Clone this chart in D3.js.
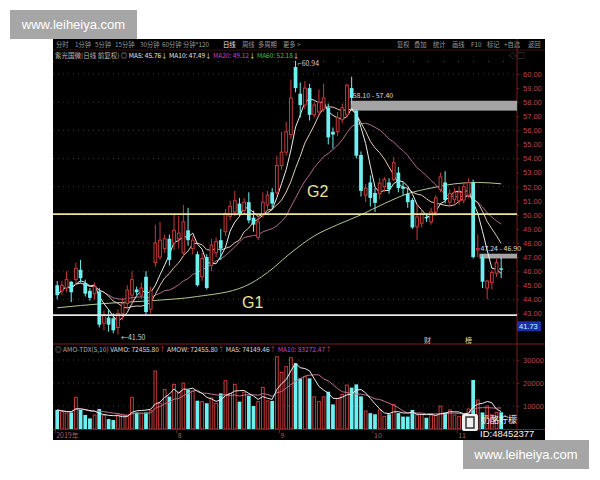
<!DOCTYPE html>
<html><head><meta charset="utf-8">
<script src="https://cdn.jsdelivr.net/npm/d3@7"></script>
<style>
body{margin:0;background:#fff;}
svg{display:block;font-family:"Noto Sans CJK SC","Noto Sans",sans-serif;}
</style>
</head><body>
<svg id="c" width="600" height="480"></svg>
<script>
// ---------- DATA ----------
const opens  = [45.0,44.6,44.8,45.25,45.4,46.1,45.15,44.6,44.4,44.55,42.3,42.7,42.65,42.0,43.0,43.7,44.3,44.7,44.3,45.6,
                43.3,46.6,47.0,47.6,48.3,48.0,48.3,47.3,48.9,47.6,47.2,45.6,47.0,46.4,47.3,48.2,48.8,49.9,50.2,50.8,
                50.3,50.9,49.8,48.4,50.0,50.7,51.6,51.6,53.5,54.45,55.7,60.5,58.6,57.8,59.0,57.1,57.3,57.5,57.6,55.9,
                55.9,56.75,57.1,59.0,57.4,54.25,51.4,52.3,51.55,51.5,52.0,52.3,52.5,53.0,52.0,51.5,51.05,49.15,49.4,49.85,
                49.5,50.2,51.8,52.3,50.9,51.1,51.0,51.05,51.4,52.3,47.5,47.0,44.8,45.2,45.85,46.2];
const highs  = [45.3,45.3,46.0,45.3,46.6,46.8,45.4,44.8,45.2,44.8,43.2,43.3,43.0,43.3,44.1,45.0,46.0,44.9,45.2,46.0,
                44.9,49.3,49.5,48.6,48.6,50.0,49.9,50.7,50.5,48.5,47.4,47.3,47.2,48.3,48.4,49.0,50.4,51.0,51.7,51.2,
                51.2,51.6,50.3,49.9,51.6,51.7,51.9,54.2,55.9,56.6,59.6,60.94,59.4,59.5,59.3,58.0,58.9,59.3,57.9,56.2,
                57.3,57.9,59.3,59.8,57.5,54.5,52.2,52.8,51.9,52.6,52.7,52.6,54.1,53.4,52.3,51.9,51.2,50.8,50.4,50.1,
                50.5,51.4,53.0,53.1,51.8,51.9,52.0,52.3,52.6,52.5,48.6,47.2,45.4,46.1,46.9,47.0];
const lows   = [44.0,44.3,44.5,43.8,45.0,45.2,44.2,43.9,44.0,42.0,41.8,41.7,41.6,41.5,42.5,43.3,43.6,44.3,44.0,42.9,
                43.0,46.3,46.8,47.3,46.4,47.5,47.6,47.0,47.8,47.2,44.9,45.3,44.7,46.0,47.0,46.8,48.5,49.6,49.9,49.9,
                50.0,49.4,48.8,48.2,49.8,50.4,50.5,51.4,53.2,54.2,55.4,58.7,56.9,57.5,56.7,56.9,57.0,57.3,55.0,54.7,
                55.6,56.5,56.9,57.9,54.0,51.3,50.9,50.6,50.2,51.1,51.6,51.5,52.4,51.6,51.4,50.5,49.0,48.2,49.1,49.5,
                49.3,49.9,51.6,50.8,50.6,50.8,50.7,50.8,51.2,46.9,47.0,44.8,44.0,44.7,45.6,45.5];
const closes = [44.3,45.0,45.4,44.5,46.2,45.5,44.4,44.1,44.9,42.2,42.9,42.2,41.8,43.0,43.7,44.65,45.4,44.5,44.8,43.1,
                44.6,48.0,48.2,48.3,46.8,48.9,48.7,49.5,48.2,48.2,45.0,46.9,44.8,47.85,48.1,47.6,50.1,50.6,51.0,50.1,
                50.9,49.6,49.3,49.5,50.9,51.4,50.8,53.5,54.45,55.9,58.3,59.0,57.8,59.0,57.1,57.8,58.0,58.3,55.5,55.7,
                56.9,57.6,59.2,58.3,54.2,51.7,51.9,51.2,50.85,52.25,52.5,51.8,53.7,51.9,51.85,50.9,49.1,49.85,50.1,49.75,
                50.2,51.2,52.7,51.05,51.5,51.6,51.6,52.0,52.3,47.0,47.6,45.25,45.3,45.9,46.6,46.1];
const volumes= [8300,7500,7000,7200,13800,8300,6100,4600,6100,8700,6000,4300,3900,6100,6400,6100,13800,7200,6800,7200,
                8000,25200,11200,17200,14100,19400,16000,19900,17000,16500,12300,11900,11200,13500,11200,15500,21000,15500,19400,11900,
                16000,14500,10000,11900,18100,12200,12200,31400,24600,27100,31000,28600,22000,22700,22000,14000,11900,14000,16200,10700,
                13300,15000,19100,18000,19400,14200,7800,6900,6400,8300,5500,6400,10600,6900,5400,5400,8300,6100,6400,4900,
                6100,6000,9900,7200,8300,6100,5400,6000,8700,21300,12600,7200,10000,6100,7200,7245];
// MA60 at selected candles
const ma60Idx = [0,10,20,30,40,45,50,55,60,65,70,75,80,85,90,95];
const ma60Val = [43.4,43.7,43.9,44.2,44.9,45.9,47.3,48.5,49.3,50.0,50.8,51.5,51.9,52.2,52.3,52.2];
const priceTicks = [60,59,58,57,56,55,54,53,52,51,50,49,48,47,46,45,44,43];
const gridPrices = [60,58,56,54,52,50,48,46,44];
const volTicks = [10000,20000,30000];
const monthLabels = ["2019年","8","9","10","11"];
const monthStart  = [0,26,48,68,86];
const toolbarLeft  = ["分时","1分钟","5分钟","15分钟","30分钟","60分钟","分钟*120","日线","周线","多周期","更多 >"];
const toolbarRight = ["复权","叠加","统计","画线","F10","标记","+自选","返回"];
const zone1 = [58.10,57.40], zone1From = 63;
const zone2 = [47.24,46.90], zone2From = 91;
const lineG2 = 50.05, lineG1 = 42.88;
const lowMark = {i:13, v:41.50}, highMark = {i:51, v:60.94};
const lastPrice = 41.73;

// ---------- SETUP ----------
const N = closes.length;
const svg = d3.select("#c");
const L = 53, R = 545, T = 39, B = 440, AX = 517;
const x = d3.scaleBand().domain(d3.range(N)).range([54.4, 504.0]).padding(0.2);
const cx = i => x(i) + x.bandwidth()/2;
const y = d3.scaleLinear().domain([43, 60]).range([313.4, 74]);
const yv = d3.scaleLinear().domain([0, 30000]).range([429, 360]);
const RED = "#c83a3a", CYAN = "#6ff0f0";

svg.append("rect").attr("width",600).attr("height",480).attr("fill","#fff");
svg.append("rect").attr("x",L).attr("y",T).attr("width",R-L).attr("height",B-T).attr("fill","#000");

// toolbar
const tbL = d3.scalePoint().domain(toolbarLeft).range([56, 283]);
const tbLx = [56,75,95,115,140,162,183,223,242,258,283];
toolbarLeft.forEach((t,k)=>{
  svg.append("text").attr("x",tbLx[k]).attr("y",47).attr("font-size",6.3)
    .attr("fill", t==="日线"?"#f0f0f0":"#9a9a9a").text(t);
});
const tbRx = [397,414,433,452,471,487,504,528];
toolbarRight.forEach((t,k)=>{
  svg.append("text").attr("x",tbRx[k]).attr("y",47).attr("font-size",6.3).attr("fill","#9a9a9a").text(t);
});
svg.append("line").attr("x1",L).attr("x2",R).attr("y1",50).attr("y2",50).attr("stroke","#3a1010");

// legend
const lg = svg.append("text").attr("x",55).attr("y",58).attr("font-size",6.5).attr("fill","#bbb");
lg.append("tspan").text("紫光国微(日线 前复权) ◎ ");
lg.append("tspan").attr("fill","#e8e8e8").text("MA5: 45.76↓ ");
lg.append("tspan").attr("fill","#e8e8e8").text("MA10: 47.49↓ ");
lg.append("tspan").attr("fill","#d040d0").text("MA20: 49.12");
lg.append("tspan").attr("fill","#e8e8e8").text("↓ ");
lg.append("tspan").attr("fill","#40c040").text("MA60: 52.18");
lg.append("tspan").attr("fill","#e8e8e8").text("↓");
svg.append("text").attr("x",509).attr("y",58).attr("font-size",7).attr("fill","#888").text("◇ ▢");

// gridlines
svg.append("g").selectAll("line").data(gridPrices).join("line")
  .attr("x1",L).attr("x2",AX).attr("y1",d=>y(d)).attr("y2",d=>y(d))
  .attr("stroke","#3a3a3a").attr("stroke-dasharray","1,4");
svg.append("line").attr("x1",L).attr("x2",AX).attr("y1",61.5).attr("y2",61.5).attr("stroke","#444").attr("stroke-dasharray","1,14");

// right axis
svg.append("line").attr("x1",AX).attr("x2",AX).attr("y1",T).attr("y2",B).attr("stroke","#7a1c1c");
const ax = svg.append("g").attr("transform",`translate(${AX},0)`)
  .call(d3.axisRight(y).tickValues(priceTicks).tickFormat(d3.format(".2f")).tickSize(2));
ax.select(".domain").remove();
ax.selectAll("line").attr("stroke","#7a1c1c");
ax.selectAll("text").attr("fill","#b84848").attr("font-size",7.5).attr("x",6).attr("font-family","Liberation Sans, sans-serif");

// zones
svg.append("rect").attr("x",cx(zone1From)-1).attr("width",AX-cx(zone1From)+1)
  .attr("y",y(zone1[0])).attr("height",y(zone1[1])-y(zone1[0])).attr("fill","#a4a4a4");
svg.append("text").attr("x",cx(zone1From)+1).attr("y",y(zone1[0])-3).attr("font-size",7).attr("fill","#ddd")
  .text(`${zone1[0].toFixed(2)} - ${zone1[1].toFixed(2)}`);
svg.append("rect").attr("x",cx(zone2From)-3).attr("width",AX-cx(zone2From)+3)
  .attr("y",y(zone2[0])).attr("height",y(zone2[1])-y(zone2[0])).attr("fill","#a4a4a4");
svg.append("text").attr("x",cx(zone2From)-2).attr("y",y(zone2[0])-3).attr("font-size",7).attr("fill","#ddd")
  .text(`${zone2[0].toFixed(2)} - ${zone2[1].toFixed(2)}`);

// clip
svg.append("clipPath").attr("id","pc").append("rect").attr("x",L).attr("y",62).attr("width",AX-L).attr("height",282);

// MAs
const ma = (arr,n) => arr.map((_,i)=> d3.mean(arr.slice(Math.max(0,i-n+1), i+1)));
const lineP = d3.line().x((d,i)=>cx(i)).y(d=>y(d));
const gMA = svg.append("g").attr("clip-path","url(#pc)").attr("fill","none").attr("stroke-width",1);
gMA.append("path").attr("d",d3.line().x((d,k)=>cx(ma60Idx[k])).y(d=>y(d)).curve(d3.curveMonotoneX)(ma60Val)).attr("stroke","#b0c890");
gMA.append("path").attr("d",lineP(ma(closes,20))).attr("stroke","#b06a90");
gMA.append("path").attr("d",lineP(ma(closes,10))).attr("stroke","#e0cbb0");
gMA.append("path").attr("d",lineP(ma(closes,5))).attr("stroke","#ececec");

// candles
const gC = svg.append("g");
const bw = x.bandwidth();
d3.range(N).forEach(i=>{
  const up = closes[i] >= opens[i];
  const c = up ? RED : CYAN;
  const top = y(Math.max(opens[i],closes[i])), bot = y(Math.min(opens[i],closes[i]));
  const h = Math.max(1, bot-top);
  if (up) {
    gC.append("line").attr("x1",cx(i)).attr("x2",cx(i)).attr("y1",y(highs[i])).attr("y2",top).attr("stroke",c);
    gC.append("line").attr("x1",cx(i)).attr("x2",cx(i)).attr("y1",top+h).attr("y2",y(lows[i])).attr("stroke",c);
    gC.append("rect").attr("x",x(i)+0.5).attr("y",top).attr("width",bw-1).attr("height",h)
      .attr("fill","#000").attr("stroke",c);
  } else {
    gC.append("line").attr("x1",cx(i)).attr("x2",cx(i)).attr("y1",y(highs[i])).attr("y2",y(lows[i])).attr("stroke",c);
    gC.append("rect").attr("x",x(i)).attr("y",top).attr("width",bw).attr("height",h).attr("fill",c);
  }
});

// horizontal lines
svg.append("line").attr("x1",L).attr("x2",AX).attr("y1",y(lineG2)).attr("y2",y(lineG2)).attr("stroke","#ece49a").attr("stroke-width",1.8);
svg.append("line").attr("x1",L).attr("x2",AX).attr("y1",y(lineG1)).attr("y2",y(lineG1)).attr("stroke","#e6e6e6").attr("stroke-width",1.8);
svg.append("text").attr("x",307).attr("y",197).attr("font-size",16).attr("fill","#ece49a").attr("font-family","Liberation Sans, sans-serif").text("G2");
svg.append("text").attr("x",242).attr("y",308).attr("font-size",16).attr("fill","#ece49a").attr("font-family","Liberation Sans, sans-serif").text("G1");

// marks
svg.append("text").attr("x",cx(lowMark.i)+3).attr("y",y(lowMark.v)+5).attr("font-size",7).attr("fill","#ccc").text("←" + lowMark.v.toFixed(2));
svg.append("text").attr("x",cx(highMark.i)+2).attr("y",y(highMark.v)+5).attr("font-size",7).attr("fill","#ccc").text("⌐" + highMark.v.toFixed(2));

// last price box
svg.append("rect").attr("x",AX).attr("y",y(lastPrice)-10).attr("width",24).attr("height",10).attr("fill","#1c2ea8");
svg.append("text").attr("x",AX+2).attr("y",y(lastPrice)-2).attr("font-size",7.5).attr("fill","#bff").attr("font-family","Liberation Sans, sans-serif").text(lastPrice.toFixed(2));

// panel separator
svg.append("line").attr("x1",L).attr("x2",R).attr("y1",344).attr("y2",344).attr("stroke","#7a1c1c");
svg.append("text").attr("x",424).attr("y",343).attr("font-size",7).attr("fill","#ccc").text("财");
svg.append("text").attr("x",465).attr("y",343).attr("font-size",7).attr("fill","#e8d890").text("榜");

// volume header
const vh = svg.append("text").attr("x",55).attr("y",352).attr("font-size",6.6).attr("fill","#ddd");
vh.append("tspan").attr("fill","#aaa").text("◎ AMO-TDX(5,10) ");
vh.append("tspan").text("VAMO: 72455.80");
vh.append("tspan").attr("fill","#d04040").text("↑ ");
vh.append("tspan").text(" AMOW: 72455.80");
vh.append("tspan").attr("fill","#d04040").text("↑ ");
vh.append("tspan").text(" MA5: 74149.46");
vh.append("tspan").attr("fill","#d04040").text("↑ ");
vh.append("tspan").attr("fill","#d040d0").text(" MA10: 83272.47");
vh.append("tspan").attr("fill","#d04040").text("↑");

// volume grid & axis
svg.append("g").selectAll("line").data(volTicks).join("line")
  .attr("x1",L).attr("x2",AX).attr("y1",d=>yv(d)).attr("y2",d=>yv(d))
  .attr("stroke","#3a3a3a").attr("stroke-dasharray","1,4");
const vax = svg.append("g").attr("transform",`translate(${AX},0)`)
  .call(d3.axisRight(yv).tickValues(volTicks).tickFormat(d3.format("d")).tickSize(2));
vax.select(".domain").remove();
vax.selectAll("line").attr("stroke","#7a1c1c");
vax.selectAll("text").attr("fill","#b84848").attr("font-size",7.5).attr("x",6).attr("font-family","Liberation Sans, sans-serif");

// volume bars
const gV = svg.append("g");
d3.range(N).forEach(i=>{
  const up = closes[i] >= opens[i];
  const top = yv(volumes[i]), h = yv(0)-top;
  if (up) gV.append("rect").attr("x",x(i)+0.5).attr("y",top).attr("width",bw-1).attr("height",h).attr("fill","#000").attr("stroke",RED);
  else gV.append("rect").attr("x",x(i)).attr("y",top).attr("width",bw).attr("height",h).attr("fill",CYAN);
});
const lineV = d3.line().x((d,i)=>cx(i)).y(d=>yv(d));
svg.append("path").attr("d",lineV(ma(volumes,10))).attr("fill","none").attr("stroke","#c07090");
svg.append("path").attr("d",lineV(ma(volumes,5))).attr("fill","none").attr("stroke","#eaeaea");

// date axis
svg.append("line").attr("x1",L).attr("x2",R).attr("y1",429.5).attr("y2",429.5).attr("stroke","#7a1c1c");
monthLabels.forEach((t,k)=>{
  svg.append("line").attr("x1",cx(monthStart[k])-2).attr("x2",cx(monthStart[k])-2).attr("y1",429.5).attr("y2",433).attr("stroke","#7a1c1c");
  svg.append("text").attr("x",cx(monthStart[k])-1).attr("y",438).attr("font-size",7).attr("fill","#a06060").text(t);
});

// watermark overlays
svg.append("rect").attr("x",462).attr("y",414).attr("width",16).attr("height",17).attr("rx",2).attr("fill","#f0f0f0");
svg.append("rect").attr("x",466).attr("y",417).attr("width",8).attr("height",11).attr("fill","none").attr("stroke","#333").attr("stroke-width",1.5);
svg.append("text").attr("x",481).attr("y",423).attr("font-size",9).attr("fill","#f4f4f4").text("奶酪柠檬");
svg.append("text").attr("x",480).attr("y",437).attr("font-size",9.5).attr("fill","#f4f4f4").attr("font-family","Liberation Sans, sans-serif").text("ID:48452377");

svg.append("rect").attr("x",10).attr("y",10).attr("width",127).attr("height",29).attr("fill","#a6a6a6");
svg.append("text").attr("x",73.5).attr("y",29).attr("text-anchor","middle").attr("font-size",13).attr("fill","#fff").attr("font-family","Liberation Sans, sans-serif").text("www.leiheiya.com");
svg.append("rect").attr("x",463).attr("y",440).attr("width",126).attr("height",29).attr("fill","#a6a6a6");
svg.append("text").attr("x",526).attr("y",459).attr("text-anchor","middle").attr("font-size",13).attr("fill","#fff").attr("font-family","Liberation Sans, sans-serif").text("www.leiheiya.com");
</script>
</body></html>
